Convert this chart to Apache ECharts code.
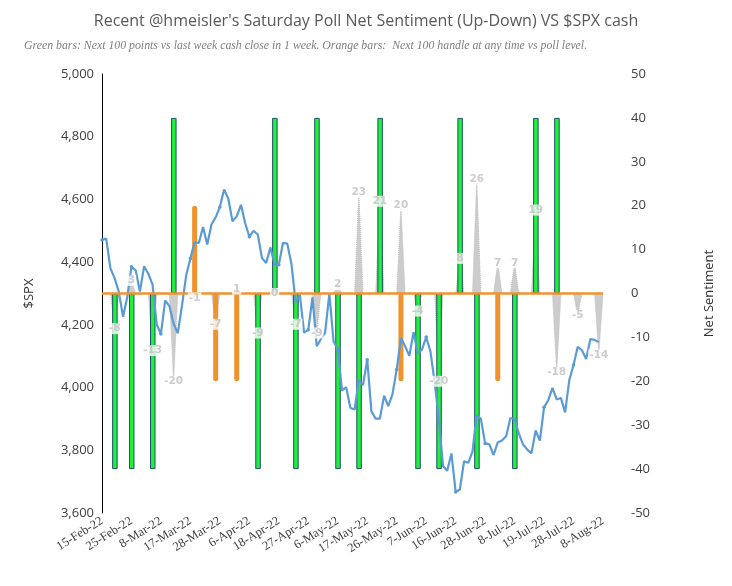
<!DOCTYPE html>
<html>
<head>
<meta charset="utf-8">
<script src="https://cdn.jsdelivr.net/npm/echarts@6/dist/echarts.min.js"></script>
<style>
  html, body { margin: 0; padding: 0; background: #fff; }
  #chart { width: 732px; height: 586px; }
</style>
</head>
<body>
<div id="chart"></div>
<script>
// trading days on the category axis
const dates = [
  '15-Feb-22','16-Feb-22','17-Feb-22','18-Feb-22','22-Feb-22','23-Feb-22','24-Feb-22','25-Feb-22','28-Feb-22',
  '1-Mar-22','2-Mar-22','3-Mar-22','4-Mar-22','7-Mar-22','8-Mar-22','9-Mar-22','10-Mar-22','11-Mar-22',
  '14-Mar-22','15-Mar-22','16-Mar-22','17-Mar-22','18-Mar-22','21-Mar-22','22-Mar-22','23-Mar-22','24-Mar-22',
  '25-Mar-22','28-Mar-22','29-Mar-22','30-Mar-22','31-Mar-22',
  '1-Apr-22','4-Apr-22','5-Apr-22','6-Apr-22','7-Apr-22','8-Apr-22','11-Apr-22','12-Apr-22','13-Apr-22',
  '14-Apr-22','18-Apr-22','19-Apr-22','20-Apr-22','21-Apr-22','22-Apr-22','25-Apr-22','26-Apr-22','27-Apr-22',
  '28-Apr-22','29-Apr-22',
  '2-May-22','3-May-22','4-May-22','5-May-22','6-May-22','9-May-22','10-May-22','11-May-22','12-May-22',
  '13-May-22','16-May-22','17-May-22','18-May-22','19-May-22','20-May-22','23-May-22','24-May-22','25-May-22',
  '26-May-22','27-May-22','31-May-22',
  '1-Jun-22','2-Jun-22','3-Jun-22','6-Jun-22','7-Jun-22','8-Jun-22','9-Jun-22','10-Jun-22','13-Jun-22',
  '14-Jun-22','15-Jun-22','16-Jun-22','17-Jun-22','21-Jun-22','22-Jun-22','23-Jun-22','24-Jun-22','27-Jun-22',
  '28-Jun-22','29-Jun-22','30-Jun-22',
  '1-Jul-22','5-Jul-22','6-Jul-22','7-Jul-22','8-Jul-22','11-Jul-22','12-Jul-22','13-Jul-22','14-Jul-22',
  '15-Jul-22','18-Jul-22','19-Jul-22','20-Jul-22','21-Jul-22','22-Jul-22','25-Jul-22','26-Jul-22','27-Jul-22',
  '28-Jul-22','29-Jul-22',
  '1-Aug-22','2-Aug-22','3-Aug-22','4-Aug-22','5-Aug-22','8-Aug-22'
]

// $SPX cash close (left axis)
const spx = [
  4471, 4475, 4380, 4349, 4305, 4226, 4289, 4385, 4374,
  4306, 4387, 4363, 4329, 4201, 4171, 4278, 4260, 4204, 4173, 4262, 4358, 4412, 4463, 4461, 4512, 4456, 4520,
  4543, 4576, 4632, 4602, 4530,
  4546, 4583, 4525, 4481, 4500, 4488, 4413, 4397, 4447, 4393, 4392, 4462, 4459, 4394, 4272, 4296, 4175, 4184,
  4288, 4132,
  4155, 4175, 4300, 4147, 4123, 3991, 4001, 3935, 3930, 4024, 4008, 4089, 3924, 3901, 3901, 3974, 3941, 3979,
  4058, 4158, 4132,
  4101, 4177, 4109, 4121, 4161, 4116, 4018, 3901, 3750, 3735, 3790, 3667, 3675, 3765, 3760, 3796, 3912, 3900,
  3822, 3819, 3785,
  3825, 3831, 3845, 3903, 3899, 3854, 3819, 3802, 3790, 3863, 3831, 3937, 3960, 3999, 3962, 3967, 3921, 4024,
  4072, 4130,
  4119, 4091, 4155, 4152, 4145, null
]

// Saturday poll net sentiment, plotted on the Friday before
const pollDates = [
  '18-Feb-22','25-Feb-22','4-Mar-22','11-Mar-22','18-Mar-22','25-Mar-22','1-Apr-22','8-Apr-22','14-Apr-22',
  '22-Apr-22','29-Apr-22','6-May-22','13-May-22','20-May-22','27-May-22','3-Jun-22','10-Jun-22','17-Jun-22',
  '24-Jun-22','1-Jul-22','8-Jul-22','15-Jul-22','22-Jul-22','29-Jul-22','5-Aug-22'
]
const pollNet = [-8, 3, -13, -20, -1, -7, 1, -9, 0, -7, -9, 2, 23, 21, 20, -4, -20, 8, 26, 7, 7, 19, -18, -5, -14]

// green bars: next 100 points vs last week close in 1 week
const greenDates = [
  '18-Feb-22','25-Feb-22','4-Mar-22','11-Mar-22','8-Apr-22','14-Apr-22','22-Apr-22','29-Apr-22','6-May-22',
  '13-May-22','20-May-22','3-Jun-22','10-Jun-22','17-Jun-22','24-Jun-22','8-Jul-22','15-Jul-22','22-Jul-22'
]
const greenValues = [-40, -40, -40, 40, -40, 40, -40, 40, -40, -40, 40, -40, -40, 40, -40, -40, 40, 40]

// orange bars: next 100 handle at any time vs poll level
const orangeDates = ['18-Mar-22', '25-Mar-22', '1-Apr-22', '27-May-22', '1-Jul-22']
const orangeValues = [20, -20, -20, -20, -20]

const spikes = dates.map(() => 0)
pollDates.forEach((d, i) => { spikes[dates.indexOf(d)] = pollNet[i] })
const greenData = dates.map(() => null)
greenDates.forEach((d, i) => { greenData[dates.indexOf(d)] = greenValues[i] })
const orangeData = dates.map(() => null)
orangeDates.forEach((d, i) => { orangeData[dates.indexOf(d)] = orangeValues[i] })
const pollLabels = pollDates.map((d, i) => [dates.indexOf(d), pollNet[i]])

const chart = echarts.init(document.getElementById('chart'))
chart.setOption({
  animation: false,
  backgroundColor: '#fff',
  title: [{
    text: "Recent @hmeisler's Saturday Poll Net Sentiment (Up-Down) VS $SPX cash",
    left: 'center',
    top: 8,
    textStyle: { fontFamily: 'Open Sans', fontSize: 16, fontWeight: 'normal', color: '#595959' }
  }, {
    text: 'Green bars: Next 100 points vs last week cash close in 1 week. Orange bars:  Next 100 handle at any time vs poll level.',
    left: 19,
    top: 35,
    textStyle: { fontFamily: 'Liberation Serif', fontStyle: 'italic', fontSize: 11.8, fontWeight: 'normal', color: '#7f7f7f' }
  }],
  grid: { left: 102, right: 129, top: 74, bottom: 73 },
  xAxis: {
    type: 'category',
    data: dates,
    boundaryGap: false,
    axisLine: { show: false },
    axisTick: { show: false },
    axisLabel: {
      interval: 6,
      rotate: 32,
      margin: 7,
      fontFamily: 'Liberation Serif',
      fontSize: 12.5,
      color: '#404040'
    }
  },
  yAxis: [{
    type: 'value',
    min: 3600,
    max: 5000,
    interval: 200,
    name: '$SPX',
    nameLocation: 'middle',
    nameRotate: 90,
    nameGap: 66,
    nameTextStyle: { fontFamily: 'Open Sans', fontSize: 13, color: '#333' },
    axisLine: { show: true, lineStyle: { color: '#000', width: 1 } },
    axisTick: { show: false },
    splitLine: { show: false },
    axisLabel: {
      margin: 8,
      fontFamily: 'Open Sans',
      fontSize: 13,
      color: '#404040',
      formatter: v => v.toLocaleString('en-US')
    }
  }, {
    type: 'value',
    min: -50,
    max: 50,
    interval: 10,
    name: 'Net Sentiment',
    nameLocation: 'middle',
    nameRotate: 90,
    nameGap: 100,
    nameTextStyle: { fontFamily: 'Open Sans', fontSize: 13, color: '#333' },
    axisLine: { show: false },
    axisTick: { show: false },
    splitLine: { show: false },
    axisLabel: { margin: 28, fontFamily: 'Open Sans', fontSize: 13, color: '#404040' }
  }],
  series: [{
    name: 'Net Sentiment',
    type: 'line',
    yAxisIndex: 1,
    data: spikes,
    symbol: 'none',
    lineStyle: { color: '#bfbfbf', width: 1, type: 'dotted' },
    areaStyle: { color: '#cccccc', opacity: 1 },
    z: 1
  }, {
    name: 'Green',
    type: 'bar',
    yAxisIndex: 1,
    data: greenData,
    barWidth: 5.5,
    barGap: '-100%',
    itemStyle: { color: '#1ff03a', borderColor: '#1f4e6b', borderWidth: 1 },
    z: 2
  }, {
    name: 'Orange',
    type: 'bar',
    yAxisIndex: 1,
    data: orangeData,
    barWidth: 5,
    barGap: '-100%',
    itemStyle: { color: '#f0932f', borderRadius: 2.5 },
    markLine: {
      silent: true,
      symbol: 'none',
      label: { show: false },
      lineStyle: { color: '#f0932f', width: 2.5, type: 'solid' },
      data: [{ yAxis: 0 }]
    },
    z: 3
  }, {
    name: '$SPX',
    type: 'line',
    yAxisIndex: 0,
    data: spx,
    symbol: 'circle',
    symbolSize: 3.5,
    showSymbol: true,
    itemStyle: { color: '#5b9bd5' },
    lineStyle: { color: '#5b9bd5', width: 2.2 },
    z: 4
  }, {
    name: 'Labels',
    type: 'scatter',
    yAxisIndex: 1,
    data: pollLabels,
    symbolSize: 0,
    label: {
      show: true,
      position: 'inside',
      formatter: p => p.value[1],
      fontFamily: 'DejaVu Sans',
      fontWeight: 'bold',
      fontSize: 10.5,
      color: '#bfbfbf',
      backgroundColor: '#fff',
      padding: [0, 1]
    },
    z: 6
  }]
})
</script>
</body>
</html>
